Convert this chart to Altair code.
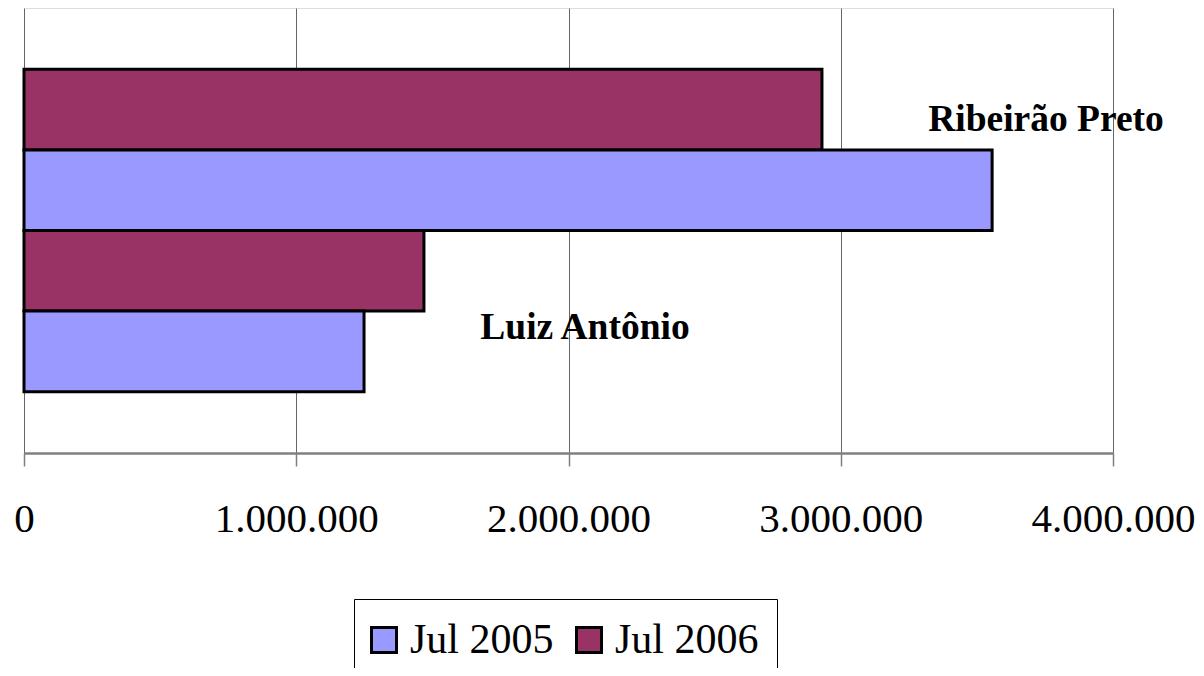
import altair as alt
import pandas as pd

categories = ["Ribeirão Preto", "Luiz Antônio"]
series = ["Jul 2005", "Jul 2006"]
jul_2005 = [3556000, 1249000]
jul_2006 = [2931000, 1469000]
x_ticks = [0, 1000000, 2000000, 3000000, 4000000]

rows = []
for i, c in enumerate(categories):
    rows.append({"cat": c, "serie": "Jul 2006", "valor": jul_2006[i], "row": f"{c} | Jul 2006"})
    rows.append({"cat": c, "serie": "Jul 2005", "valor": jul_2005[i], "row": f"{c} | Jul 2005"})
df = pd.DataFrame(rows)
row_order = list(df["row"])

SERIF = "Liberation Serif"

bars = alt.Chart(df).mark_bar(stroke="black", strokeWidth=3).encode(
    x=alt.X("valor:Q",
            scale=alt.Scale(domain=[0, 4000000], nice=False, zero=True),
            axis=alt.Axis(values=x_ticks, title=None, grid=True,
                          gridColor="#666666", gridWidth=1,
                          domainColor="#808080", domainWidth=2.5,
                          tickColor="#808080", tickWidth=1.5, tickSize=13,
                          labelFont=SERIF, labelFontSize=41, labelColor="black",
                          labelPadding=33, labelFlush=False, labelOverlap=False,
                          labelBound=False,
                          labelExpr="replace(format(datum.value, ','), /,/g, '.')")),
    y=alt.Y("row:N", sort=row_order,
            scale=alt.Scale(paddingInner=0, paddingOuter=0.76),
            axis=None),
    color=alt.Color("serie:N",
                    scale=alt.Scale(domain=series, range=["#9999FF", "#993366"]),
                    legend=alt.Legend(title=" ", titleFontSize=2, titlePadding=0,
                                      orient="none",
                                      legendX=330, legendY=591,
                                      direction="horizontal",
                                      symbolType="square", symbolSize=625,
                                      symbolStrokeColor="black", symbolStrokeWidth=3,
                                      symbolOpacity=1, symbolOffset=-9,
                                      labelFont=SERIF, labelFontSize=42,
                                      labelColor="black", labelOffset=5,
                                      columnPadding=16,
                                      padding=18, strokeColor="black",
                                      fillColor="white")),
)

lab_r = alt.Chart(pd.DataFrame({"t": [categories[0]]})).mark_text(
    font=SERIF, fontSize=37.5, fontWeight="bold", color="black",
    align="center", baseline="alphabetic"
).encode(text="t:N", x=alt.value(1022), y=alt.value(123))

lab_l = alt.Chart(pd.DataFrame({"t": [categories[1]]})).mark_text(
    font=SERIF, fontSize=37.5, fontWeight="bold", color="black",
    align="center", baseline="alphabetic"
).encode(text="t:N", x=alt.value(561), y=alt.value(331))

chart = alt.layer(bars, lab_r, lab_l).properties(
    width=1089, height=445,
    autosize=alt.AutoSizeParams(type="none"),
    padding={"left": 16, "top": 0, "right": 83, "bottom": 215},
).configure_view(stroke="#808080", strokeWidth=2.5).configure(background="white")

chart.save("out.html", embed_options={"renderer": "svg", "actions": False})
